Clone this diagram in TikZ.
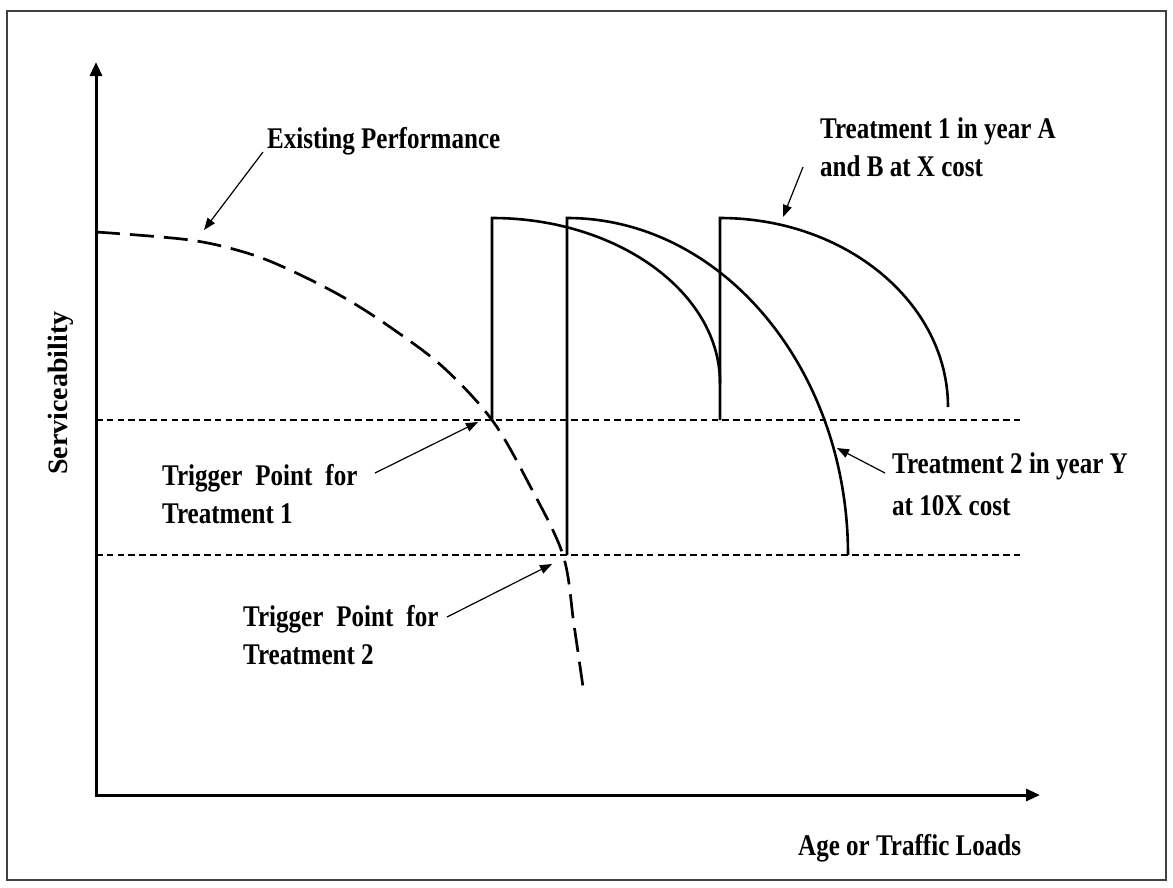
\documentclass[tikz,border=0pt]{standalone}
\usepackage{fontspec}
\usetikzlibrary{arrows.meta}
\newfontfamily\labfont[FakeStretch=0.835]{Liberation Serif}
\newfontfamily\axfont{Liberation Serif}
\tikzset{
  lab/.style={inner sep=0pt, anchor=base west, font=\labfont\bfseries\fontsize{30}{38}\selectfont},
  pointer/.style={line width=1.2pt, -{Triangle[length=12pt,width=9pt]}},
  axisline/.style={line width=3pt, line join=miter, {Triangle[length=14pt,width=12pt]}-{Triangle[length=14pt,width=12pt]}},
  guide/.style={line width=1.3pt, dash pattern=on 6.5pt off 4.3pt},
  existing/.style={line width=2.7pt, dash pattern=on 24pt off 10pt},
  treat/.style={line width=2.6pt, line join=miter},
  frame/.style={line width=1.5pt, draw=black!75},
}
\newcommand{\ws}{\hspace{13pt}}
\begin{document}
\begin{tikzpicture}[x=1pt,y=-1pt]
\useasboundingbox (0,0) rectangle (1173,887);
\draw[frame] (7,11) rectangle (1166,880);

% axes
\coordinate (O) at (96,795);
\coordinate (ytip) at (96,62);
\coordinate (xtip) at (1040,795);
\draw[axisline] (ytip) -- (O) -- (xtip);

% trigger levels
\coordinate (g1s) at (96,420);
\coordinate (g1e) at (1020,420);
\coordinate (g2s) at (96,555);
\coordinate (g2e) at (1020,555);
\draw[guide] (g1s) -- (g1e);
\draw[guide] (g2s) -- (g2e);

% existing performance
\draw[existing] plot[smooth, tension=0.55] coordinates {(96,232) (190,240) (247,253) (290,270) (343,297) (390,327) (443,367) (492,420) (529,484) (563,555) (574,625) (583,687)};

% treatments
\draw[treat] (492,420) -- (492,218) .. controls (617,218) and (720,292) .. (720,383);
\draw[treat] (567,555) -- (567,218) .. controls (722,218) and (848,369) .. (848,555);
\draw[treat] (720,420) -- (720,218) .. controls (846,218) and (948,303) .. (948,407);

% labels
\node[rotate=90, inner sep=0pt, font=\axfont\bfseries\fontsize{28}{34}\selectfont] (sv) at (61,393) {Serviceability};
\node[lab] (age) at (798,855) {Age or Traffic Loads};

\node[lab] (ep) at (267,148) {Existing Performance};
\coordinate (epS) at (263,152);
\coordinate (epT) at (204,230);
\draw[pointer] (epS) -- (epT);

\node[lab] (t1) at (820,138) {\begin{tabular}[t]{@{}l@{}}Treatment 1 in year A\\ and B at X cost\end{tabular}};
\coordinate (t1S) at (803,167);
\coordinate (t1T) at (783,217);
\draw[pointer] (t1S) -- (t1T);

\node[lab] (tp1) at (162,485) {\begin{tabular}[t]{@{}l@{}}Trigger\ws Point\ws for\\ Treatment 1\end{tabular}};
\coordinate (tp1S) at (375,473);
\coordinate (tp1T) at (478,422);
\draw[pointer] (tp1S) -- (tp1T);

\node[lab] (tp2) at (243,626) {\begin{tabular}[t]{@{}l@{}}Trigger\ws Point\ws for\\ Treatment 2\end{tabular}};
\coordinate (tp2S) at (447,617);
\coordinate (tp2T) at (552,564);
\draw[pointer] (tp2S) -- (tp2T);

\node[lab, font=\labfont\bfseries\fontsize{30}{42}\selectfont] (t2) at (892,473) {\begin{tabular}[t]{@{}l@{}}Treatment 2 in year Y\\ at 10X cost\end{tabular}};
\coordinate (t2S) at (885,473);
\coordinate (t2T) at (837,448);
\draw[pointer] (t2S) -- (t2T);
\end{tikzpicture}
\end{document}
